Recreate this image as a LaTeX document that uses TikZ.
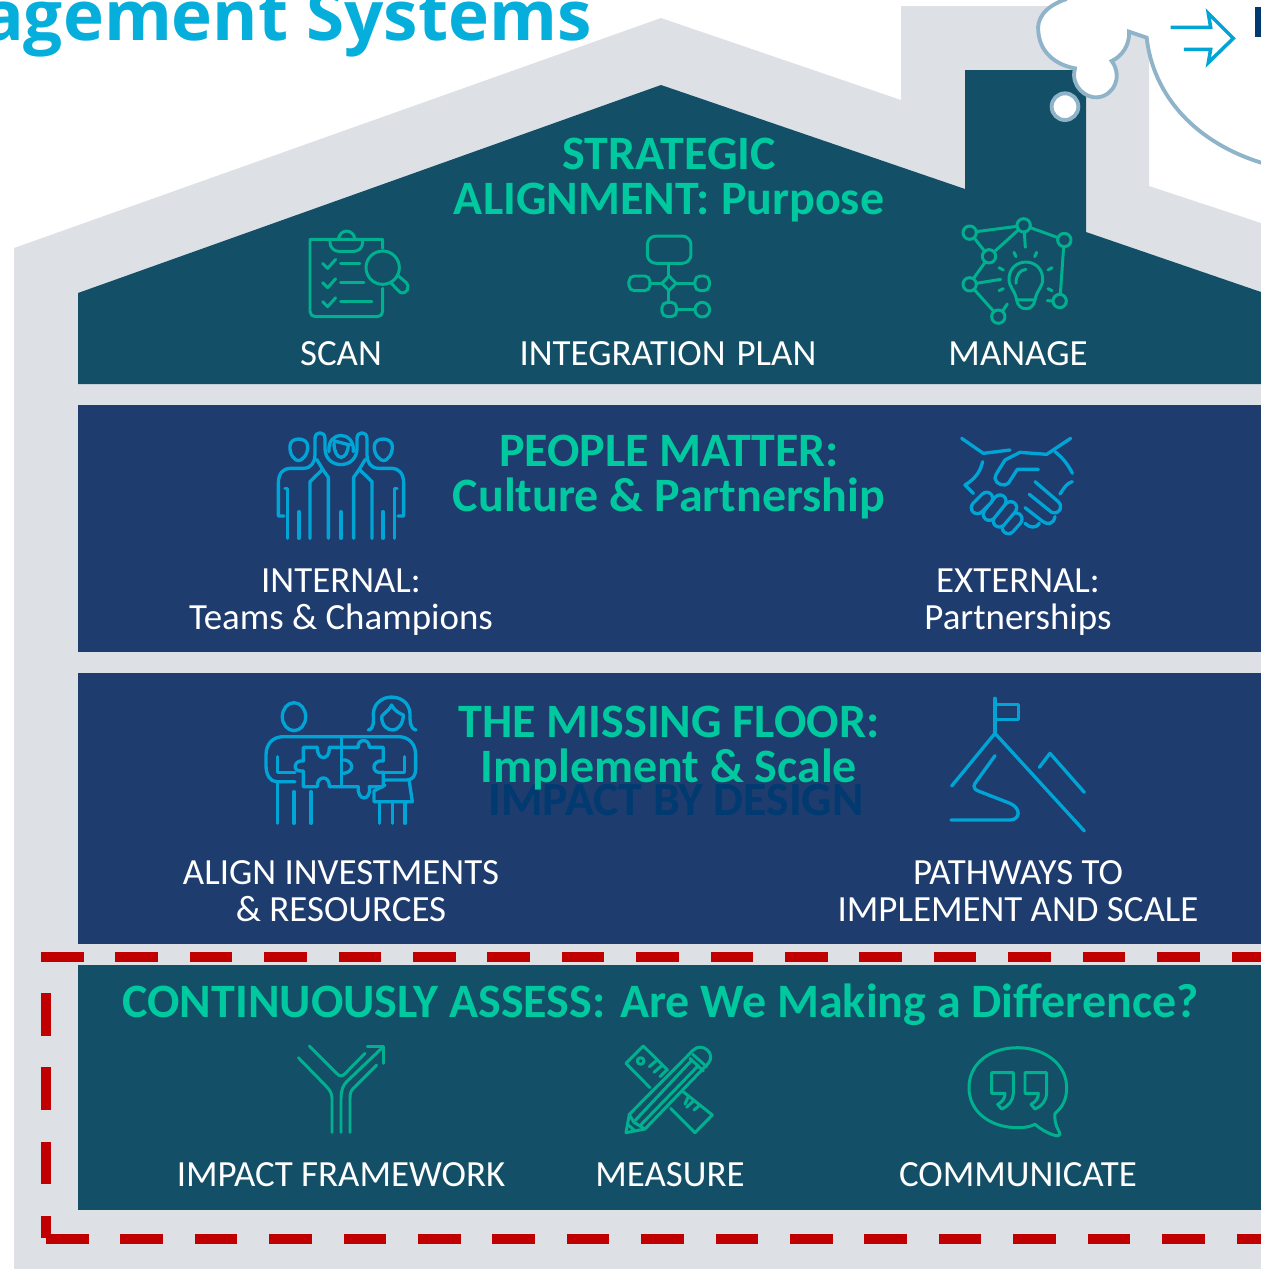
\documentclass[tikz,border=0pt]{standalone}
\usepackage{fontspec}
\setmainfont{Carlito}
\newfontfamily\titlefont{Open Sans}
\usepackage{tikz}

\definecolor{housegrey}{HTML}{DDE1E6}
\definecolor{roofteal}{HTML}{135068}
\definecolor{floorblue}{HTML}{1E3C6E}
\definecolor{headgreen}{HTML}{00C9A0}
\definecolor{icongreen}{HTML}{00B08F}
\definecolor{iconblue}{HTML}{00A5D6}
\definecolor{titleblue}{HTML}{05AEDB}
\definecolor{cloudline}{HTML}{8FB3C8}
\definecolor{dashred}{HTML}{C00000}
\definecolor{ghostblue}{HTML}{003A70}

\tikzset{
  heading/.style={text=headgreen, font=\fontsize{27.3}{26.1}\selectfont\bfseries, align=center, inner sep=0pt},
  caption/.style={text=white, font=\fontsize{21}{20.9}\selectfont, align=center, inner sep=0pt},
  greenline/.style={draw=icongreen, line width=1.7pt, line cap=round, line join=round},
  blueline/.style={draw=iconblue, line width=1.9pt, line cap=round, line join=round},
  fingerloop/.style={double=floorblue, double distance=5pt},
  reddash/.style={draw=dashred, line width=6pt, dash pattern=on 24.2pt off 18.15pt},
  zoomed/.style={x=0.006667cm, y=-0.006667cm},
}

\begin{document}
\begin{tikzpicture}[x=0.02cm, y=-0.02cm]
    \useasboundingbox (0,0) rectangle (1261,1269);
    \clip (0,0) rectangle (1261,1269);

    % house and floors
    \fill [housegrey] (14,248) -- (661,18) -- (901,100) -- (901,6) -- (1149,6) -- (1149,186) -- (1261,223) -- (1261,1269) -- (14,1269) -- cycle;
    \fill [roofteal] (78,293) -- (661,85) -- (965,189) -- (965,70) -- (1086,70) -- (1086,232) -- (1261,292) -- (1261,384) -- (78,384) -- cycle;
    \fill [floorblue] (78,405) rectangle (1261,652);
    \fill [floorblue] (78,673) rectangle (1261,944);
    \fill [roofteal] (78,965) rectangle (1261,1210);

    % cloud
    \begin{scope}[shift={(900,0)}, zoomed]
        \fill [white] (500,-10) .. controls (430,20) and (410,60) .. (415,95)
            .. controls (420,160) and (470,195) .. (525,205)
            .. controls (510,260) and (560,295) .. (590,292)
            .. controls (640,290) and (670,230) .. (635,183)
            .. controls (665,170) and (690,135) .. (687,95)
            -- (740,113) .. controls (760,290) and (890,430) .. (1090,490) -- (1090,-10) -- cycle;
        \draw [cloudline, line width=2.2pt, line join=miter] (500,-3) .. controls (430,20) and (410,60) .. (415,95)
            .. controls (420,160) and (470,195) .. (525,205)
            .. controls (510,260) and (560,295) .. (590,292)
            .. controls (640,290) and (670,230) .. (635,183)
            .. controls (665,170) and (690,135) .. (687,95)
            -- (740,113) .. controls (760,290) and (890,430) .. (1090,490);
        \draw [cloudline, fill=white, line width=2.2pt] (495,320) circle [radius=40];
        \draw [draw=iconblue, line width=2pt, line join=miter] (812,82) -- (932,82) -- (925,40) -- (1000,115) -- (925,188) -- (932,148) -- (852,148);
        \fill [ghostblue] (1065,21) rectangle (1090,111);
    \end{scope}

    % title
    \node [anchor=base east, inner sep=0pt, text=titleblue, font=\fontsize{39.4}{40}\titlefont\bfseries] (title) at (592,40) {agement Systems};

    % headings
    \node [heading] (strategic) at (669,180) {STRATEGIC\\ALIGNMENT: Purpose};
    \node [heading] (people) at (669,477) {PEOPLE MATTER:\\Culture \& Partnership};
    \node [anchor=base, inner sep=0pt, text=ghostblue, font=\fontsize{27.1}{26.1}\selectfont\bfseries] (ghost) at (676,815) {IMPACT BY DESIGN};
    \node [heading] (missing) at (669,748) {THE MISSING FLOOR:\\Implement \& Scale};
    \node [heading] (assess) at (660.5,1005) {CONTINUOUSLY ASSESS:\hspace{0.31em}Are We Making a Difference?};

    % captions
    \node [caption] (scan) at (341,354) {SCAN};
    \node [caption] (plan) at (668,354) {INTEGRATION\hspace{0.3em}PLAN};
    \node [caption] (manage) at (1018,354) {MANAGE};
    \node [caption] (internal) at (341,602) {INTERNAL:\\Teams \& Champions};
    \node [caption] (external) at (1018,602) {EXTERNAL:\\Partnerships};
    \node [caption] (align) at (341,891) {ALIGN INVESTMENTS\\\& RESOURCES};
    \node [caption] (pathways) at (1018,891) {PATHWAYS TO\\IMPLEMENT AND SCALE};
    \node [caption] (framework) at (341,1175) {IMPACT FRAMEWORK};
    \node [caption] (measure) at (670,1175) {MEASURE};
    \node [caption] (communicate) at (1018,1175) {COMMUNICATE};

    % red dashes
    \draw [reddash] (41,957) -- (1261,957);
    \draw [reddash] (46,993) -- (46,1238);
    \draw [reddash] (46,1239) -- (1261,1239);

    % scan icon
    \begin{scope}[shift={(260,210)}, zoomed, greenline]
        \draw (368,115) -- (368,88) -- (150,88) [rounded corners=3pt] -- (150,320) -- (368,320) -- (368,235);
        \draw [rounded corners=5pt] (210,88) -- (210,124) -- (308,124) -- (308,88);
        \draw (235,88) .. controls (240,55) and (280,55) .. (285,88);
        \draw (368,173) circle [radius=50];
        \draw (392,218) -- (420,247) .. controls (440,255) and (452,232) .. (438,217) -- (412,195);
        \draw (188,160) -- (203,175) -- (227,148);
        \draw (188,218) -- (203,233) -- (227,206);
        \draw (188,275) -- (203,290) -- (227,263);
        \draw (242,160) -- (300,160);
        \draw (242,218) -- (312,218);
        \draw (242,275) -- (336,275);
    \end{scope}

    % plan icon
    \begin{scope}[shift={(260,210)}, zoomed, greenline]
        \draw [rounded corners=5pt] (1162,78) rectangle (1293,160);
        \draw (1227,160) -- (1227,198);
        \draw (1227,198) -- (1248,220) -- (1227,242) -- (1206,220) -- cycle;
        \draw (1227,242) -- (1227,277);
        \draw [rounded corners=3pt] (1107,198) rectangle (1170,242);
        \draw (1170,220) -- (1206,220);
        \draw (1248,220) -- (1305,220);
        \draw [rounded corners=3pt] (1305,198) rectangle (1348,242);
        \draw [rounded corners=3pt] (1206,277) rectangle (1250,320);
        \draw (1250,299) -- (1305,299);
        \draw (1327,299) circle [radius=22];
    \end{scope}

    % manage icon
    \begin{scope}[shift={(900,0)}, zoomed, greenline]
        \draw (209,698) circle [radius=20];
        \draw (371,676) circle [radius=20];
        \draw (493,720) circle [radius=20];
        \draw (267,769) circle [radius=20];
        \draw (209,853) circle [radius=20];
        \draw (479,903) circle [radius=20];
        \draw (295,950) circle [radius=20];
        \draw (229,695) -- (351,679);
        \draw (391,683) -- (474,713);
        \draw (222,713) -- (254,754);
        \draw (356,689) -- (282,756);
        \draw (256,786) -- (220,836);
        \draw (222,868) -- (282,935);
        \draw (307,934) -- (322,912);
        \draw (229,850) -- (302,838);
        \draw (373,696) -- (376,742);
        \draw (491,740) -- (481,883);
        \draw (459,903) -- (442,902);
        \draw (342,757) -- (348,770);
        \draw (410,757) -- (404,770);
        \draw (297,803) -- (310,810);
        \draw (456,803) -- (444,810);
        \draw (297,872) -- (310,866);
        \draw (456,872) -- (444,866);
        \draw (350,900) .. controls (345,870) and (325,860) .. (327,835) .. controls (330,770) and (425,770) .. (428,835) .. controls (430,860) and (410,870) .. (405,900) -- cycle;
        \draw (350,900) .. controls (355,935) and (400,935) .. (405,900);
        \draw (348,850) .. controls (348,825) and (360,810) .. (378,808);
    \end{scope}

    % internal icon
    \begin{scope}[shift={(260,420)}, zoomed, blueline]
        \draw (90,78) .. controls (90,50) and (142,50) .. (143,78) .. controls (145,105) and (125,122) .. (115,122) .. controls (105,122) and (88,105) .. (90,78);
        \draw (343,78) .. controls (343,50) and (396,50) .. (397,78) .. controls (398,105) and (381,122) .. (371,122) .. controls (361,122) and (341,105) .. (343,78);
        \draw (72,288) -- (55,288) -- (55,190) .. controls (55,160) and (70,145) .. (90,145) -- (130,145) .. controls (155,145) and (165,125) .. (165,105) -- (165,55) .. controls (165,33) and (195,33) .. (195,55) -- (195,85) .. controls (195,150) and (291,150) .. (291,85) -- (291,55) .. controls (291,33) and (321,33) .. (321,55) -- (321,105) .. controls (321,125) and (331,145) .. (356,145) -- (396,145) .. controls (416,145) and (431,160) .. (431,190) -- (431,288) -- (414,288);
        \draw (170,118) -- (188,148) -- (150,185) -- (150,355);
        \draw (188,148) -- (205,172) -- (205,355);
        \draw (316,118) -- (298,148) -- (336,185) -- (336,355);
        \draw (298,148) -- (281,172) -- (281,355);
        \draw (75,205) -- (83,205) -- (83,355);
        \draw (411,205) -- (403,205) -- (403,355);
        \draw (117,275) -- (117,355);
        \draw (243,275) -- (243,355);
        \draw (369,275) -- (369,355);
        \draw (207,95) .. controls (200,30) and (285,30) .. (280,95);
        \draw (220,62) -- (270,75);
        \draw (222,70) .. controls (222,95) and (232,112) .. (243,112) .. controls (255,112) and (265,95) .. (265,75);
    \end{scope}

    % external icon
    \begin{scope}[shift={(940,425)}, zoomed, blueline]
        \draw (65,40) -- (130,85) -- (210,75);
        \draw (128,110) .. controls (120,145) and (100,165) .. (75,180) -- (100,205);
        \draw (392,40) -- (320,88) -- (240,82) -- (195,105);
        \draw (195,105) .. controls (180,130) and (165,150) .. (165,160) .. controls (168,180) and (195,185) .. (205,175) -- (232,133) -- (295,133);
        \draw (345,80) .. controls (370,100) and (385,120) .. (397,145);
        \draw (397,170) .. controls (380,175) and (375,185) .. (360,207);
        \draw (285,170) -- (355,230) .. controls (370,245) and (360,270) .. (335,262) -- (268,208);
        \draw (345,275) .. controls (340,300) and (320,300) .. (305,287) -- (255,248);
        \draw (255,295) .. controls (270,310) and (290,310) .. (298,295);
        \draw [fingerloop] (228,282) -- (205,308);
        \draw [fingerloop] (212,248) -- (178,288);
        \draw [fingerloop] (180,228) -- (148,268);
        \draw [fingerloop] (140,220) -- (112,248);
    \end{scope}

    % align icon
    \begin{scope}[shift={(250,685)}, zoomed, blueline]
        \draw (132,95) ellipse [x radius=35, y radius=42];
        \draw (355,135) .. controls (375,130) and (370,105) .. (370,85) .. controls (375,20) and (475,20) .. (480,85) .. controls (480,105) and (478,130) .. (498,135);
        \draw (395,95) .. controls (395,125) and (415,135) .. (428,135) .. controls (445,135) and (460,115) .. (460,90) .. controls (450,85) and (435,80) .. (425,60) .. controls (420,75) and (400,85) .. (395,95);
        \draw (135,290) -- (80,290) .. controls (60,290) and (48,270) .. (48,240) -- (48,210) .. controls (48,175) and (70,155) .. (100,155) -- (445,155) .. controls (475,155) and (497,175) .. (497,210) -- (497,250) .. controls (497,270) and (490,285) .. (470,285) -- (405,285);
        \draw (83,215) -- (83,262) -- (135,262);
        \draw (463,215) -- (463,262) -- (405,262);
        \draw (83,290) -- (83,415);
        \draw (132,320) -- (132,415);
        \draw (183,320) -- (183,415);
        \draw (405,300) -- (372,318) -- (372,350) -- (487,350) -- (478,290);
        \draw (388,350) -- (388,415);
        \draw (427,350) -- (427,415);
        \draw (465,350) -- (465,415);
        \draw (275,155) -- (275,305);
        \draw (202,187) -- (160,187) -- (160,228) .. controls (135,222) and (120,262) .. (160,258) -- (160,305) -- (202,305) .. controls (200,270) and (240,270) .. (238,305) -- (275,305) -- (325,305);
        \draw (202,187) .. controls (200,228) and (240,228) .. (238,187) -- (275,187) -- (325,187) .. controls (320,160) and (360,160) .. (358,187) -- (400,187) -- (400,228) .. controls (365,222) and (360,270) .. (400,262) -- (400,305) -- (358,305) .. controls (365,350) and (320,350) .. (325,305);
        \draw (275,225) .. controls (310,220) and (320,265) .. (275,265);
    \end{scope}

    % pathways icon
    \begin{scope}[shift={(930,685)}, zoomed, blueline]
        \draw (195,40) -- (195,145);
        \draw (195,58) -- (265,58) -- (265,103) -- (195,103);
        \draw (65,303) -- (195,145) -- (463,438);
        \draw (328,247) -- (360,205) -- (463,322);
        \draw (195,212) -- (135,295) .. controls (128,305) and (135,315) .. (145,318) -- (240,355) .. controls (275,370) and (270,405) .. (240,405) -- (63,405);
    \end{scope}

    % framework and measure icons
    \begin{scope}[shift={(280,1035)}, zoomed, greenline]
        \draw (55,68) -- (135,150) .. controls (150,165) and (156,175) .. (156,190) -- (156,292);
        \draw (88,33) -- (170,115) .. controls (178,125) and (188,125) .. (196,115) -- (255,55);
        \draw (183,292) -- (183,190) .. controls (183,165) and (190,150) .. (200,140) -- (310,35);
        \draw (262,35) -- (310,35) -- (310,85);
        \draw (210,292) -- (210,190) .. controls (210,170) and (215,165) .. (225,155) -- (290,90);
        \draw (1048,238) -- (1240,45) .. controls (1265,20) and (1310,55) .. (1285,85) -- (1095,282) -- (1038,293) -- cycle;
        \draw (1066,256) -- (1235,76);
        \draw (1082,270) -- (1255,92);
        \draw (1238,58) -- (1280,95);
        \draw (1230,70) -- (1270,108);
        \draw (1048,238) -- (1062,262) -- (1095,282);
        \draw (1045,270) -- (1062,285);
        \draw (1110,158) -- (1038,85) -- (1090,33) -- (1163,105);
        \draw (1172,220) -- (1245,293) -- (1297,240) -- (1207,168);
        \draw (1082,78) circle [radius=10];
        \draw (1128,78) -- (1108,95);
        \draw (1145,92) -- (1122,112);
        \draw (1160,105) -- (1140,125);
        \draw (1225,185) -- (1215,207);
        \draw (1240,198) -- (1220,217);
        \draw (1258,212) -- (1242,225);
    \end{scope}

    % communicate icon
    \begin{scope}[shift={(950,1035)}, zoomed, greenline]
        \draw (315,235) .. controls (340,215) and (350,190) .. (350,158) .. controls (350,85) and (280,38) .. (203,38) .. controls (120,38) and (57,85) .. (57,158) .. controls (57,230) and (120,278) .. (203,278) .. controls (225,278) and (240,275) .. (255,268) .. controls (275,285) and (300,298) .. (318,302) .. controls (330,305) and (332,295) .. (325,285) .. controls (317,270) and (313,255) .. (315,235);
        \draw (125,113) -- (190,113) -- (190,175) .. controls (190,195) and (175,215) .. (155,222) -- (143,208) .. controls (158,200) and (165,190) .. (165,175) -- (125,175) -- cycle;
        \draw (225,113) -- (290,113) -- (290,175) .. controls (290,195) and (275,215) .. (255,222) -- (243,208) .. controls (258,200) and (265,190) .. (265,175) -- (225,175) -- cycle;
    \end{scope}
\end{tikzpicture}
\end{document}
